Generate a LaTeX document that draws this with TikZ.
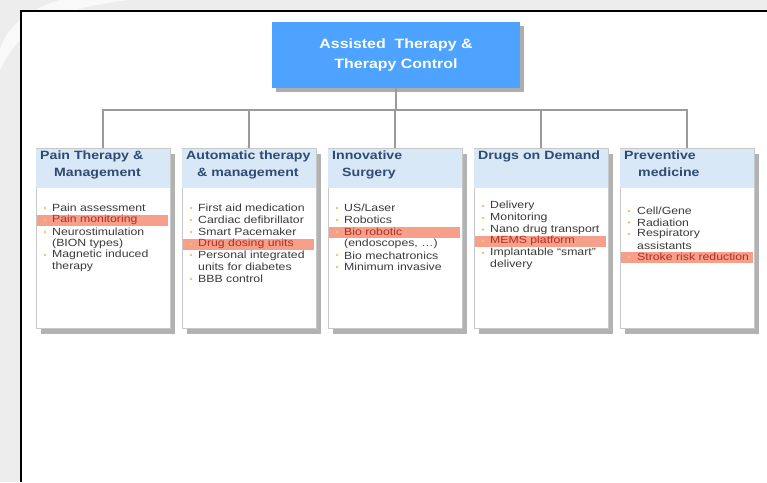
\documentclass[tikz,border=0pt]{standalone}
\usepackage{fontspec}
\setmainfont{Liberation Sans}[FakeStretch=1.18]
\usetikzlibrary{shadows}
\definecolor{topblue}{HTML}{4DA3FF}
\definecolor{hdrband}{HTML}{D9E8F7}
\definecolor{hlfill}{HTML}{F6A08C}
\definecolor{hltext}{HTML}{B03020}
\definecolor{txt}{HTML}{3A3A3A}
\definecolor{hdrtext}{HTML}{2E4B72}
\definecolor{bulc}{HTML}{EBC46A}
\definecolor{connc}{HTML}{9A9A9A}
\definecolor{boxline}{HTML}{C8C8C8}
\definecolor{bgray}{HTML}{EDEDED}
\begin{document}
\begin{tikzpicture}[x=1pt,y=-1pt,
  topbox/.style={fill=topblue, text=white, minimum width=248pt, minimum height=66pt,
     align=center, inner sep=0pt, font=\bfseries\fontsize{13.5}{20}\selectfont,
     drop shadow={shadow xshift=4pt, shadow yshift=-4pt, fill=gray!80, opacity=0.8}},
  colbox/.style={draw=boxline, fill=white, minimum width=134pt, minimum height=180pt,
     anchor=north, inner sep=0pt,
     drop shadow={shadow xshift=5pt, shadow yshift=-6pt, fill=gray!75, opacity=0.8}},
  conn/.style={draw=connc, line width=1.5pt},
  hdr/.style={anchor=north west, align=left, inner sep=0pt, text=hdrtext,
     font=\bfseries\fontsize{12}{16.5}\selectfont},
  it/.style={anchor=west, inner sep=0pt, text=txt, font=\fontsize{10.4}{11}\selectfont},
  hit/.style={it, text=hltext},
  hl/.style={fill=hlfill},
  bul/.style={fill=bulc},
]
\useasboundingbox (0,0) rectangle (767,482);
% slide background
\fill[bgray] (0,0) rectangle (767,482);
\fill[white, opacity=0.7] (0,70) .. controls (15,35) and (50,8) .. (130,0) -- (60,0) .. controls (25,10) and (5,30) .. (0,50) -- cycle;
\fill[white] (21,11) rectangle (767,482);
\draw[black, line width=2pt] (21,482) -- (21,11) -- (767,11);

% top node
\node[topbox] (top) at (396,55) {Assisted\ \ Therapy \&\\Therapy Control};

% column boxes
\node[colbox] (c1) at (103,148) {};
\node[colbox] (c2) at (249,148) {};
\node[colbox] (c3) at (395,148) {};
\node[colbox] (c4) at (541,148) {};
\node[colbox] (c5) at (687,148) {};

% connectors
\coordinate (hub) at (396,110);
\draw[conn] (top.south) -- (hub);
\foreach \c in {c1,c2,c3,c4,c5} { \draw[conn] (hub) -| (\c.north); }

% header bands
\foreach \c in {c1,c2,c3,c4,c5} {
  \fill[hdrband] ([shift={(0.5pt,-0.5pt)}]\c.north west) rectangle ([shift={(-0.5pt,-40pt)}]\c.north east);
}

% highlight rows
\fill[hl] (37,214.5) rectangle (168,225.5);
\fill[hl] (183,238.5) rectangle (314,249.5);
\fill[hl] (329,226.5) rectangle (460,237.5);
\fill[hl] (475,235.5) rectangle (606,246.5);
\fill[hl] (621,251.5) rectangle (753,262.5);

% headers
\node[hdr] (h1) at (40,151) {Pain Therapy \&\\\hspace*{14pt}Management};
\node[hdr] (h2) at (186,151) {Automatic therapy\\\hspace*{11pt}\& management};
\node[hdr] (h3) at (332,151) {Innovative\\\hspace*{10pt}Surgery};
\node[hdr] (h4) at (478,151) {Drugs on Demand};
\node[hdr] (h5) at (624,151) {Preventive\\\hspace*{14pt}medicine};

% column 1
\foreach \y in {208,220,232,255} { \fill[bul] (45,\y) circle (1.4pt); }
\node[it]  (a1) at (52,208) {Pain assessment};
\node[hit] (a2) at (52,220) {Pain monitoring};
\node[it]  (a3) at (52,232) {Neurostimulation};
\node[it]  (a4) at (52,243.5) {(BION types)};
\node[it]  (a5) at (52,255) {Magnetic induced};
\node[it]  (a6) at (52,266.5) {therapy};

% column 2
\foreach \y in {208,220,232,244,255,279} { \fill[bul] (191,\y) circle (1.4pt); }
\node[it]  (b1) at (198,208) {First aid medication};
\node[it]  (b2) at (198,220) {Cardiac defibrillator};
\node[it]  (b3) at (198,232) {Smart Pacemaker};
\node[hit] (b4) at (198,244) {Drug dosing units};
\node[it]  (b5) at (198,255.5) {Personal integrated};
\node[it]  (b6) at (198,267) {units for diabetes};
\node[it]  (b7) at (198,279) {BBB control};

% column 3
\foreach \y in {208,220,232,255,267} { \fill[bul] (337,\y) circle (1.4pt); }
\node[it]  (d1) at (344,208) {US/Laser};
\node[it]  (d2) at (344,220) {Robotics};
\node[hit] (d3) at (344,232) {Bio robotic};
\node[it]  (d4) at (344,243.5) {(endoscopes, \textcolor{hltext}{\dots})};
\node[it]  (d5) at (344,255.5) {Bio mechatronics};
\node[it]  (d6) at (344,267) {Minimum invasive};

% column 4
\foreach \y in {206,218,229.5,241,253} { \fill[bul] (483,\y) circle (1.4pt); }
\node[it]  (e1) at (490,206) {Delivery};
\node[it]  (e2) at (490,218) {Monitoring};
\node[it]  (e3) at (490,229.5) {Nano drug transport};
\node[hit] (e4) at (490,241) {MEMS platform};
\node[it]  (e5) at (490,253) {Implantable ``smart''};
\node[it]  (e6) at (490,264.5) {delivery};

% column 5
\foreach \y in {211,222.5,234,257} { \fill[bul] (629,\y) circle (1.4pt); }
\node[it]  (f1) at (637,211) {Cell/Gene};
\node[it]  (f2) at (637,222.5) {Radiation};
\node[it]  (f3) at (637,234) {Respiratory};
\node[it]  (f4) at (637,245.5) {assistants};
\node[hit] (f5) at (637,257) {Stroke risk reduction};
\end{tikzpicture}
\end{document}
